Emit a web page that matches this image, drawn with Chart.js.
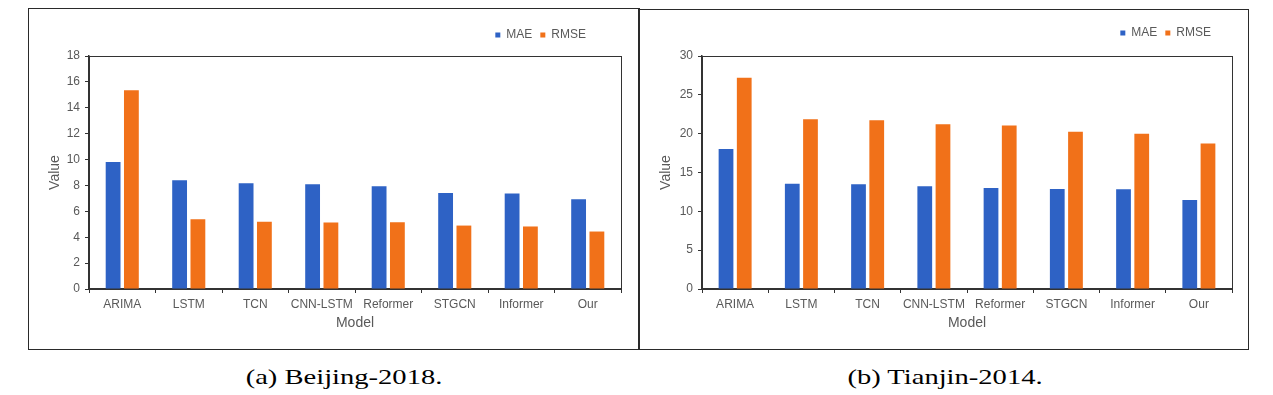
<!DOCTYPE html>
<html>
<head>
<meta charset="utf-8">
<script src="https://cdn.jsdelivr.net/npm/chart.js@4.4.1/dist/chart.umd.min.js"></script>
<style>
  html, body { margin: 0; padding: 0; background: #fff; }
  body { width: 1273px; height: 395px; position: relative; overflow: hidden; }
  .frame { position: absolute; box-sizing: border-box; border: 1px solid #2a2a2a; }
  .wrap { position: absolute; }
  .cap { position: absolute; top: 365px; line-height: 24px; font-family: "Liberation Serif", serif; font-size: 21px; color: #000; white-space: nowrap; transform: translateX(-50%) scaleX(1.36); }
</style>
</head>
<body>
<div class="frame" style="left:28px;top:8px;width:612px;height:342px"></div>
<div class="frame" style="left:638px;top:9px;width:611px;height:341px"></div>
<div class="wrap" style="left:29px;top:9px"><canvas id="chartA" width="610" height="340"></canvas></div>
<div class="wrap" style="left:640px;top:9px"><canvas id="chartB" width="608" height="340"></canvas></div>
<div class="cap" style="left:344px">(a) Beijing-2018.</div>
<div class="cap" style="left:945px">(b) Tianjin-2014.</div>

<script>
// models on the x axis
const models = ['ARIMA', 'LSTM', 'TCN', 'CNN-LSTM', 'Reformer', 'STGCN', 'Informer', 'Our'];

// (a) Beijing-2018
const beijingMAE = [9.81, 8.40, 8.17, 8.09, 7.94, 7.42, 7.37, 6.93];
const beijingRMSE = [15.36, 5.39, 5.19, 5.14, 5.16, 4.90, 4.83, 4.44];
const beijingYMax = 18, beijingYStep = 2;

// (b) Tianjin-2014
const tianjinMAE = [18.01, 13.56, 13.48, 13.22, 13.00, 12.88, 12.84, 11.47];
const tianjinRMSE = [27.20, 21.87, 21.74, 21.22, 21.05, 20.24, 19.98, 18.74];
const tianjinYMax = 30, tianjinYStep = 5;

const blue = '#2e62c5';
const orange = '#f17119';
const grey = '#595959';
const dark = '#333333';
const family = '"Liberation Sans", Arial, sans-serif';

// box round the plot area (top and right sides)
const plotFrame = {
	id: 'plotFrame',
	afterDraw(chart) {
		const a = chart.chartArea;
		const ctx = chart.ctx;
		ctx.save();
		ctx.strokeStyle = dark;
		ctx.lineWidth = 1;
		ctx.strokeRect(Math.round(a.left) + 0.5, Math.round(a.top) + 0.5, Math.round(a.right - a.left), Math.round(a.bottom - a.top));
		ctx.restore();
	}
};

// pull the legend a bit to the left of the plot's right edge
const legendShift = {
	id: 'legendShift',
	afterLayout(chart, args, opts) {
		if (chart.legend) {
			chart.legend.right -= opts.shift || 0;
		}
	}
};

function makeChart(id, mae, rmse, yMax, yStep, lay) {
	var ctx = document.getElementById(id).getContext('2d');
	return new Chart(ctx, {
		type: 'bar',
		data: {
			labels: models,
			datasets: [{
				label: 'MAE',
				data: mae,
				backgroundColor: blue,
				borderWidth: 0
			}, {
				label: 'RMSE',
				data: rmse,
				backgroundColor: orange,
				borderWidth: 0
			}]
		},
		options: {
			responsive: false,
			animation: false,
			datasets: { bar: { categoryPercentage: 0.55, barPercentage: 0.81 } },
			layout: { padding: { left: lay.left, right: lay.right, top: lay.top, bottom: 13.6 } },
			plugins: {
				legend: {
					position: 'top',
					align: 'end',
					labels: { boxWidth: 5, boxHeight: 5, padding: 8, color: grey, font: { family: family, size: 12 } }
				},
				tooltip: { enabled: false },
				legendShift: { shift: lay.shift }
			},
			scales: {
				x: {
					grid: { display: true, drawOnChartArea: false, drawTicks: true, tickLength: 4, color: dark, offset: true },
					border: { display: true, color: dark, width: 1.5 },
					ticks: { color: grey, font: { family: family, size: 12 }, padding: 4, maxRotation: 0, autoSkip: false },
					title: { display: true, text: 'Model', color: grey, font: { family: family, size: 14 }, padding: { top: 4, bottom: 4 } },
					afterFit: function (s) { s.height = 46.4; }
				},
				xTop: {
					position: 'top',
					grid: { display: false },
					border: { display: false },
					ticks: { display: false },
					afterFit: function (s) { s.height = lay.gap; }
				},
				y: {
					min: 0,
					max: yMax,
					grid: { display: true, drawOnChartArea: false, drawTicks: true, tickLength: 4, color: dark },
					border: { display: true, color: dark, width: 1.5 },
					ticks: { stepSize: yStep, color: grey, font: { family: family, size: 12 }, padding: 5 },
					title: { display: true, text: 'Value', color: grey, font: { family: family, size: 14 }, padding: { top: 4, bottom: 4 } },
					afterFit: function (s) { s.width = lay.yWidth; }
				}
			}
		},
		plugins: [plotFrame, legendShift]
	});
}

makeChart('chartA', beijingMAE, beijingRMSE, beijingYMax, beijingYStep,
	{ left: 13.5, right: 18, top: 12, yWidth: 46.5, gap: 5, shift: 27 });
makeChart('chartB', tianjinMAE, tianjinRMSE, tianjinYMax, tianjinYStep,
	{ left: 13.5, right: 16, top: 10, yWidth: 48.5, gap: 7, shift: 13 });
</script>
</body>
</html>
